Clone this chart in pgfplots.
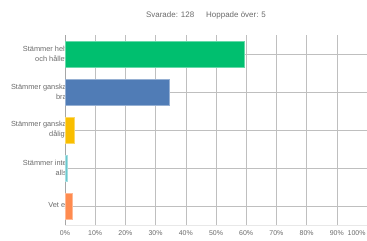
\documentclass[border=0pt]{standalone}
\usepackage{fontspec}
\setmainfont{Liberation Sans}
\usepackage{pgfplots}
\pgfplotsset{compat=1.18}
\definecolor{txt}{HTML}{6A6A6A}
\definecolor{grid}{HTML}{E8E8E8}
\definecolor{cgreen}{HTML}{00BF6F}
\definecolor{cblue}{HTML}{507CB6}
\definecolor{cyellow}{HTML}{F9BE00}
\definecolor{clblue}{HTML}{6BC8CD}
\definecolor{corange}{HTML}{FF8B4F}
\begin{document}
\begin{tikzpicture}
\useasboundingbox (0,0) rectangle (367bp,241bp);
\node[text=txt,font=\fontsize{8}{9}\selectfont] at (206bp,226bp) {Svarade: 128\hspace{12bp}Hoppade över: 5};
\begin{axis}[
  at={(65bp,16bp)}, anchor=south west,
  scale only axis, width=302bp, height=190bp,
  xmin=0, xmax=100, ymin=-0.5, ymax=4.5, y dir=reverse,
  xbar, bar width=25.5bp, bar shift=0pt,
  xtick={0,10,...,90},
  xticklabels={0\%,10\%,20\%,30\%,40\%,50\%,60\%,70\%,80\%,90\%},
  extra x ticks={100}, extra x tick labels={100\%},
  extra x tick style={xticklabel style={anchor=north east, xshift=2bp}},
  xmajorgrids, grid style={grid, line width=0.6bp},
  major tick length=0pt,
  ytick={0,1,2,3,4},
  yticklabels={{Stämmer helt\\och hållet},{Stämmer ganska\\bra},{Stämmer ganska\\dåligt},{Stämmer inte\\alls},{Vet ej}},
  yticklabel style={align=right, font=\fontsize{7.4}{10}\selectfont, text=txt, inner sep=0pt, xshift=2bp},
  xticklabel style={font=\fontsize{7}{8}\selectfont, text=txt, yshift=-2bp},
  axis x line*=bottom, axis y line*=left,
  x axis line style={grid, line width=0.8bp, -},
  y axis line style={draw=txt!60, line width=0.6bp, -},
  clip=false,
]
\addplot[fill=cgreen, draw=cgreen!60!white, line width=0.4bp] coordinates {(59.38,0)};
\addplot[fill=cblue, draw=cblue!60!white, line width=0.4bp] coordinates {(34.38,1)};
\addplot[fill=cyellow, draw=cyellow!60!white, line width=0.4bp] coordinates {(3.13,2)};
\addplot[fill=clblue, draw=clblue!60!white, line width=0.4bp] coordinates {(0.78,3)};
\addplot[fill=corange, draw=corange!60!white, line width=0.4bp] coordinates {(2.34,4)};
\end{axis}
\end{tikzpicture}
\end{document}
